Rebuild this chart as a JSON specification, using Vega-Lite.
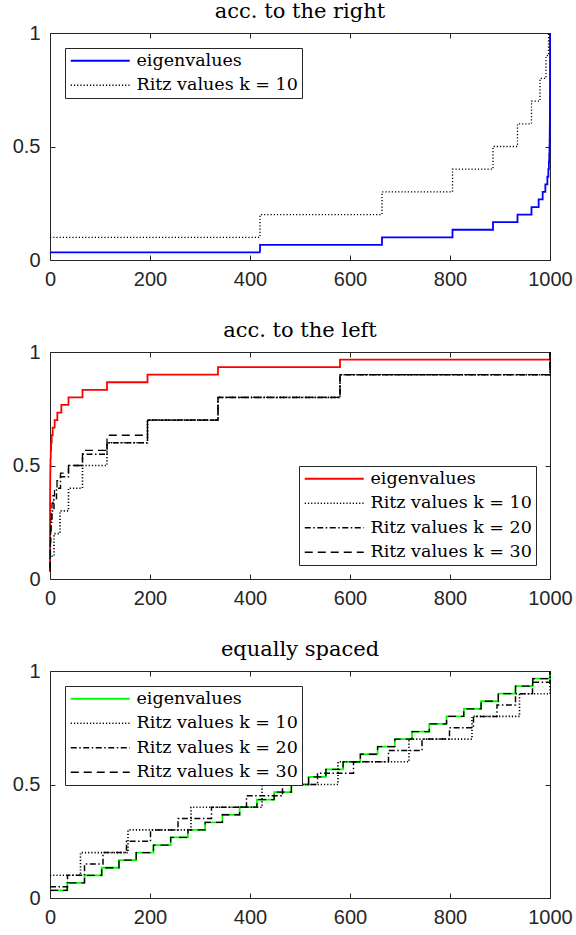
{
  "$schema": "https://vega.github.io/schema/vega-lite/v6.json",
  "padding": {"left": 11, "top": 0, "right": 0, "bottom": 0},
  "background": "white",
  "datasets": {
    "p1": [
      {"series": "eigenvalues", "x": 0, "y": 0.0333},
      {"series": "eigenvalues", "x": 420, "y": 0.0667},
      {"series": "eigenvalues", "x": 664, "y": 0.1},
      {"series": "eigenvalues", "x": 805, "y": 0.1333},
      {"series": "eigenvalues", "x": 886, "y": 0.1667},
      {"series": "eigenvalues", "x": 935, "y": 0.2},
      {"series": "eigenvalues", "x": 963, "y": 0.2333},
      {"series": "eigenvalues", "x": 977.3, "y": 0.2667},
      {"series": "eigenvalues", "x": 985.3, "y": 0.3},
      {"series": "eigenvalues", "x": 990.7, "y": 0.3333},
      {"series": "eigenvalues", "x": 994.7, "y": 0.3667},
      {"series": "eigenvalues", "x": 996.7, "y": 0.4},
      {"series": "eigenvalues", "x": 997.8, "y": 0.4333},
      {"series": "eigenvalues", "x": 998.5, "y": 0.4667},
      {"series": "eigenvalues", "x": 999, "y": 0.5},
      {"series": "eigenvalues", "x": 999.3, "y": 0.5333},
      {"series": "eigenvalues", "x": 999.5, "y": 0.5667},
      {"series": "eigenvalues", "x": 999.65, "y": 0.6},
      {"series": "eigenvalues", "x": 999.75, "y": 0.6333},
      {"series": "eigenvalues", "x": 999.83, "y": 0.6667},
      {"series": "eigenvalues", "x": 999.88, "y": 0.7},
      {"series": "eigenvalues", "x": 999.92, "y": 0.7333},
      {"series": "eigenvalues", "x": 999.95, "y": 0.7667},
      {"series": "eigenvalues", "x": 999.97, "y": 0.8},
      {"series": "eigenvalues", "x": 999.98, "y": 0.8333},
      {"series": "eigenvalues", "x": 999.99, "y": 0.8667},
      {"series": "eigenvalues", "x": 999.995, "y": 0.9},
      {"series": "eigenvalues", "x": 999.998, "y": 0.9333},
      {"series": "eigenvalues", "x": 999.999, "y": 0.9667},
      {"series": "eigenvalues", "x": 1000, "y": 1},
      {"series": "Ritz values k = 10", "x": 0, "y": 0.1},
      {"series": "Ritz values k = 10", "x": 420, "y": 0.2},
      {"series": "Ritz values k = 10", "x": 664, "y": 0.3},
      {"series": "Ritz values k = 10", "x": 805, "y": 0.4},
      {"series": "Ritz values k = 10", "x": 886, "y": 0.5},
      {"series": "Ritz values k = 10", "x": 935, "y": 0.6},
      {"series": "Ritz values k = 10", "x": 963, "y": 0.7},
      {"series": "Ritz values k = 10", "x": 980, "y": 0.8},
      {"series": "Ritz values k = 10", "x": 992, "y": 0.9},
      {"series": "Ritz values k = 10", "x": 997, "y": 1}
    ],
    "p2": [
      {"series": "eigenvalues", "x": 0, "y": 0.0333},
      {"series": "eigenvalues", "x": 0.001, "y": 0.0667},
      {"series": "eigenvalues", "x": 0.002, "y": 0.1},
      {"series": "eigenvalues", "x": 0.005, "y": 0.1333},
      {"series": "eigenvalues", "x": 0.01, "y": 0.1667},
      {"series": "eigenvalues", "x": 0.02, "y": 0.2},
      {"series": "eigenvalues", "x": 0.03, "y": 0.2333},
      {"series": "eigenvalues", "x": 0.05, "y": 0.2667},
      {"series": "eigenvalues", "x": 0.08, "y": 0.3},
      {"series": "eigenvalues", "x": 0.12, "y": 0.3333},
      {"series": "eigenvalues", "x": 0.17, "y": 0.3667},
      {"series": "eigenvalues", "x": 0.25, "y": 0.4},
      {"series": "eigenvalues", "x": 0.35, "y": 0.4333},
      {"series": "eigenvalues", "x": 0.5, "y": 0.4667},
      {"series": "eigenvalues", "x": 0.7, "y": 0.5},
      {"series": "eigenvalues", "x": 1, "y": 0.5333},
      {"series": "eigenvalues", "x": 1.5, "y": 0.5667},
      {"series": "eigenvalues", "x": 2.2, "y": 0.6},
      {"series": "eigenvalues", "x": 3.3, "y": 0.6333},
      {"series": "eigenvalues", "x": 5.3, "y": 0.6667},
      {"series": "eigenvalues", "x": 9.3, "y": 0.7},
      {"series": "eigenvalues", "x": 14.7, "y": 0.7333},
      {"series": "eigenvalues", "x": 22.7, "y": 0.7667},
      {"series": "eigenvalues", "x": 37, "y": 0.8},
      {"series": "eigenvalues", "x": 65, "y": 0.8333},
      {"series": "eigenvalues", "x": 114, "y": 0.8667},
      {"series": "eigenvalues", "x": 195, "y": 0.9},
      {"series": "eigenvalues", "x": 336, "y": 0.9333},
      {"series": "eigenvalues", "x": 580, "y": 0.9667},
      {"series": "eigenvalues", "x": 1000, "y": 1},
      {"series": "Ritz values k = 10", "x": 3, "y": 0.1},
      {"series": "Ritz values k = 10", "x": 8, "y": 0.2},
      {"series": "Ritz values k = 10", "x": 20, "y": 0.3},
      {"series": "Ritz values k = 10", "x": 37, "y": 0.4},
      {"series": "Ritz values k = 10", "x": 65, "y": 0.5},
      {"series": "Ritz values k = 10", "x": 114, "y": 0.6},
      {"series": "Ritz values k = 10", "x": 195, "y": 0.7},
      {"series": "Ritz values k = 10", "x": 336, "y": 0.8},
      {"series": "Ritz values k = 10", "x": 580, "y": 0.9},
      {"series": "Ritz values k = 10", "x": 1000, "y": 1},
      {"series": "Ritz values k = 20", "x": 0, "y": 0.05},
      {"series": "Ritz values k = 20", "x": 0.3, "y": 0.1},
      {"series": "Ritz values k = 20", "x": 0.7, "y": 0.15},
      {"series": "Ritz values k = 20", "x": 1.2, "y": 0.2},
      {"series": "Ritz values k = 20", "x": 2, "y": 0.25},
      {"series": "Ritz values k = 20", "x": 4, "y": 0.3},
      {"series": "Ritz values k = 20", "x": 8, "y": 0.35},
      {"series": "Ritz values k = 20", "x": 13, "y": 0.4},
      {"series": "Ritz values k = 20", "x": 21, "y": 0.45},
      {"series": "Ritz values k = 20", "x": 37, "y": 0.5},
      {"series": "Ritz values k = 20", "x": 65, "y": 0.55},
      {"series": "Ritz values k = 20", "x": 114, "y": 0.6},
      {"series": "Ritz values k = 20", "x": 195, "y": 0.7},
      {"series": "Ritz values k = 20", "x": 336, "y": 0.8},
      {"series": "Ritz values k = 20", "x": 580, "y": 0.9},
      {"series": "Ritz values k = 20", "x": 1000, "y": 1},
      {"series": "Ritz values k = 30", "x": 0, "y": 0.0333},
      {"series": "Ritz values k = 30", "x": 0.2, "y": 0.0667},
      {"series": "Ritz values k = 30", "x": 0.4, "y": 0.1},
      {"series": "Ritz values k = 30", "x": 0.6, "y": 0.1333},
      {"series": "Ritz values k = 30", "x": 0.9, "y": 0.1667},
      {"series": "Ritz values k = 30", "x": 1.2, "y": 0.2},
      {"series": "Ritz values k = 30", "x": 1.6, "y": 0.2333},
      {"series": "Ritz values k = 30", "x": 2.2, "y": 0.2667},
      {"series": "Ritz values k = 30", "x": 3, "y": 0.3},
      {"series": "Ritz values k = 30", "x": 4, "y": 0.3333},
      {"series": "Ritz values k = 30", "x": 6, "y": 0.3667},
      {"series": "Ritz values k = 30", "x": 9, "y": 0.4},
      {"series": "Ritz values k = 30", "x": 14, "y": 0.4333},
      {"series": "Ritz values k = 30", "x": 21, "y": 0.4667},
      {"series": "Ritz values k = 30", "x": 37, "y": 0.5},
      {"series": "Ritz values k = 30", "x": 65, "y": 0.5667},
      {"series": "Ritz values k = 30", "x": 114, "y": 0.6333},
      {"series": "Ritz values k = 30", "x": 195, "y": 0.7},
      {"series": "Ritz values k = 30", "x": 336, "y": 0.8},
      {"series": "Ritz values k = 30", "x": 580, "y": 0.9},
      {"series": "Ritz values k = 30", "x": 1000, "y": 1}
    ],
    "p3": [
      {"series": "eigenvalues", "x": 0, "y": 0.0333},
      {"series": "eigenvalues", "x": 34.5, "y": 0.0667},
      {"series": "eigenvalues", "x": 69, "y": 0.1},
      {"series": "eigenvalues", "x": 103.4, "y": 0.1333},
      {"series": "eigenvalues", "x": 137.9, "y": 0.1667},
      {"series": "eigenvalues", "x": 172.4, "y": 0.2},
      {"series": "eigenvalues", "x": 206.9, "y": 0.2333},
      {"series": "eigenvalues", "x": 241.4, "y": 0.2667},
      {"series": "eigenvalues", "x": 275.9, "y": 0.3},
      {"series": "eigenvalues", "x": 310.3, "y": 0.3333},
      {"series": "eigenvalues", "x": 344.8, "y": 0.3667},
      {"series": "eigenvalues", "x": 379.3, "y": 0.4},
      {"series": "eigenvalues", "x": 413.8, "y": 0.4333},
      {"series": "eigenvalues", "x": 448.3, "y": 0.4667},
      {"series": "eigenvalues", "x": 482.8, "y": 0.5},
      {"series": "eigenvalues", "x": 517.2, "y": 0.5333},
      {"series": "eigenvalues", "x": 551.7, "y": 0.5667},
      {"series": "eigenvalues", "x": 586.2, "y": 0.6},
      {"series": "eigenvalues", "x": 620.7, "y": 0.6333},
      {"series": "eigenvalues", "x": 655.2, "y": 0.6667},
      {"series": "eigenvalues", "x": 689.7, "y": 0.7},
      {"series": "eigenvalues", "x": 724.1, "y": 0.7333},
      {"series": "eigenvalues", "x": 758.6, "y": 0.7667},
      {"series": "eigenvalues", "x": 793.1, "y": 0.8},
      {"series": "eigenvalues", "x": 827.6, "y": 0.8333},
      {"series": "eigenvalues", "x": 862.1, "y": 0.8667},
      {"series": "eigenvalues", "x": 896.6, "y": 0.9},
      {"series": "eigenvalues", "x": 931, "y": 0.9333},
      {"series": "eigenvalues", "x": 965.5, "y": 0.9667},
      {"series": "eigenvalues", "x": 1000, "y": 1},
      {"series": "Ritz values k = 10", "x": 0, "y": 0.1},
      {"series": "Ritz values k = 10", "x": 61, "y": 0.2},
      {"series": "Ritz values k = 10", "x": 156, "y": 0.3},
      {"series": "Ritz values k = 10", "x": 282, "y": 0.4},
      {"series": "Ritz values k = 10", "x": 424, "y": 0.5},
      {"series": "Ritz values k = 10", "x": 576, "y": 0.6},
      {"series": "Ritz values k = 10", "x": 718, "y": 0.7},
      {"series": "Ritz values k = 10", "x": 844, "y": 0.8},
      {"series": "Ritz values k = 10", "x": 939, "y": 0.9},
      {"series": "Ritz values k = 10", "x": 1000, "y": 1},
      {"series": "Ritz values k = 20", "x": 0, "y": 0.05},
      {"series": "Ritz values k = 20", "x": 35, "y": 0.1},
      {"series": "Ritz values k = 20", "x": 69, "y": 0.15},
      {"series": "Ritz values k = 20", "x": 106, "y": 0.2},
      {"series": "Ritz values k = 20", "x": 153, "y": 0.25},
      {"series": "Ritz values k = 20", "x": 201, "y": 0.3},
      {"series": "Ritz values k = 20", "x": 256, "y": 0.35},
      {"series": "Ritz values k = 20", "x": 323, "y": 0.4},
      {"series": "Ritz values k = 20", "x": 393, "y": 0.45},
      {"series": "Ritz values k = 20", "x": 465, "y": 0.5},
      {"series": "Ritz values k = 20", "x": 535, "y": 0.55},
      {"series": "Ritz values k = 20", "x": 607, "y": 0.6},
      {"series": "Ritz values k = 20", "x": 677, "y": 0.65},
      {"series": "Ritz values k = 20", "x": 744, "y": 0.7},
      {"series": "Ritz values k = 20", "x": 799, "y": 0.75},
      {"series": "Ritz values k = 20", "x": 847, "y": 0.8},
      {"series": "Ritz values k = 20", "x": 894, "y": 0.85},
      {"series": "Ritz values k = 20", "x": 931, "y": 0.9},
      {"series": "Ritz values k = 20", "x": 965, "y": 0.95},
      {"series": "Ritz values k = 20", "x": 1000, "y": 1},
      {"series": "Ritz values k = 30", "x": 0, "y": 0.0333},
      {"series": "Ritz values k = 30", "x": 34.5, "y": 0.0667},
      {"series": "Ritz values k = 30", "x": 69, "y": 0.1},
      {"series": "Ritz values k = 30", "x": 103.4, "y": 0.1333},
      {"series": "Ritz values k = 30", "x": 137.9, "y": 0.1667},
      {"series": "Ritz values k = 30", "x": 172.4, "y": 0.2},
      {"series": "Ritz values k = 30", "x": 206.9, "y": 0.2333},
      {"series": "Ritz values k = 30", "x": 241.4, "y": 0.2667},
      {"series": "Ritz values k = 30", "x": 275.9, "y": 0.3},
      {"series": "Ritz values k = 30", "x": 310.3, "y": 0.3333},
      {"series": "Ritz values k = 30", "x": 344.8, "y": 0.3667},
      {"series": "Ritz values k = 30", "x": 379.3, "y": 0.4},
      {"series": "Ritz values k = 30", "x": 413.8, "y": 0.4333},
      {"series": "Ritz values k = 30", "x": 448.3, "y": 0.4667},
      {"series": "Ritz values k = 30", "x": 482.8, "y": 0.5},
      {"series": "Ritz values k = 30", "x": 517.2, "y": 0.5333},
      {"series": "Ritz values k = 30", "x": 551.7, "y": 0.5667},
      {"series": "Ritz values k = 30", "x": 586.2, "y": 0.6},
      {"series": "Ritz values k = 30", "x": 620.7, "y": 0.6333},
      {"series": "Ritz values k = 30", "x": 655.2, "y": 0.6667},
      {"series": "Ritz values k = 30", "x": 689.7, "y": 0.7},
      {"series": "Ritz values k = 30", "x": 724.1, "y": 0.7333},
      {"series": "Ritz values k = 30", "x": 758.6, "y": 0.7667},
      {"series": "Ritz values k = 30", "x": 793.1, "y": 0.8},
      {"series": "Ritz values k = 30", "x": 827.6, "y": 0.8333},
      {"series": "Ritz values k = 30", "x": 862.1, "y": 0.8667},
      {"series": "Ritz values k = 30", "x": 896.6, "y": 0.9},
      {"series": "Ritz values k = 30", "x": 931, "y": 0.9333},
      {"series": "Ritz values k = 30", "x": 965.5, "y": 0.9667},
      {"series": "Ritz values k = 30", "x": 1000, "y": 1}
    ]
  },
  "vconcat": [
    {
      "data": {"name": "p1"},
      "width": 500,
      "height": 227,
      "title": "acc. to the right",
      "layer": [
        {
          "transform": [{"filter": "datum.series === 'eigenvalues'"}],
          "mark": {"type": "line", "interpolate": "step-after"},
          "encoding": {
            "x": {"field": "x", "type": "quantitative", "scale": {"domain": [0, 1000], "nice": false}, "axis": {"values": [0, 200, 400, 600, 800, 1000], "format": "d", "title": null, "labelFlush": false, "labelOverlap": false, "labelPadding": 14}},
            "y": {"field": "y", "type": "quantitative", "scale": {"domain": [0, 1], "nice": false}, "axis": {"values": [0, 0.5, 1], "format": "~g", "title": null, "labelFlush": false, "labelOverlap": false, "labelPadding": 15}},
            "color": {"field": "series", "type": "nominal", "scale": {"domain": ["eigenvalues", "Ritz values k = 10"], "range": ["#0000ff", "#000000"]}, "legend": {"title": null, "orient": "top-left", "offset": 15}},
            "strokeDash": {"field": "series", "type": "nominal", "scale": {"domain": ["eigenvalues", "Ritz values k = 10"], "range": [[1, 0], [1.2, 2]]}, "legend": {"title": null, "orient": "top-left", "offset": 15}},
            "strokeWidth": {"field": "series", "type": "nominal", "scale": {"domain": ["eigenvalues", "Ritz values k = 10"], "range": [1.8, 1.3]}, "legend": {"title": null, "orient": "top-left", "offset": 15}}
          }
        },
        {
          "transform": [{"filter": "datum.series !== 'eigenvalues'"}],
          "mark": {"type": "line", "interpolate": "step-after"},
          "encoding": {
            "x": {"field": "x", "type": "quantitative", "axis": null},
            "y": {"field": "y", "type": "quantitative", "axis": null},
            "color": {"field": "series", "type": "nominal", "legend": {"title": null, "orient": "top-left", "offset": 15}},
            "strokeDash": {"field": "series", "type": "nominal", "legend": {"title": null, "orient": "top-left", "offset": 15}},
            "strokeWidth": {"field": "series", "type": "nominal", "legend": {"title": null, "orient": "top-left", "offset": 15}}
          }
        },
        {
          "mark": {"type": "point", "opacity": 0},
          "encoding": {
            "x": {"field": "x", "type": "quantitative", "axis": {"orient": "top", "values": [0, 200, 400, 600, 800, 1000], "labels": false, "title": null}},
            "y": {"field": "y", "type": "quantitative", "axis": {"orient": "right", "values": [0, 0.5, 1], "labels": false, "title": null}}
          }
        }
      ],
      "resolve": {"axis": {"x": "independent", "y": "independent"}}
    },
    {
      "data": {"name": "p2"},
      "width": 500,
      "height": 227,
      "title": "acc. to the left",
      "layer": [
        {
          "transform": [{"filter": "datum.series === 'eigenvalues'"}],
          "mark": {"type": "line", "interpolate": "step-after"},
          "encoding": {
            "x": {"field": "x", "type": "quantitative", "scale": {"domain": [0, 1000], "nice": false}, "axis": {"values": [0, 200, 400, 600, 800, 1000], "format": "d", "title": null, "labelFlush": false, "labelOverlap": false, "labelPadding": 14}},
            "y": {"field": "y", "type": "quantitative", "scale": {"domain": [0, 1], "nice": false}, "axis": {"values": [0, 0.5, 1], "format": "~g", "title": null, "labelFlush": false, "labelOverlap": false, "labelPadding": 15}},
            "color": {"field": "series", "type": "nominal", "scale": {"domain": ["eigenvalues", "Ritz values k = 10", "Ritz values k = 20", "Ritz values k = 30"], "range": ["#ff0000", "#000000", "#000000", "#000000"]}, "legend": {"title": null, "orient": "bottom-right", "offset": 14}},
            "strokeDash": {"field": "series", "type": "nominal", "scale": {"domain": ["eigenvalues", "Ritz values k = 10", "Ritz values k = 20", "Ritz values k = 30"], "range": [[1, 0], [1.2, 2], [6, 2.5, 1.5, 2.5], [8, 5]]}, "legend": {"title": null, "orient": "bottom-right", "offset": 14}},
            "strokeWidth": {"field": "series", "type": "nominal", "scale": {"domain": ["eigenvalues", "Ritz values k = 10", "Ritz values k = 20", "Ritz values k = 30"], "range": [1.8, 1.3, 1.4, 1.4]}, "legend": {"title": null, "orient": "bottom-right", "offset": 14}}
          }
        },
        {
          "transform": [{"filter": "datum.series !== 'eigenvalues'"}],
          "mark": {"type": "line", "interpolate": "step-after"},
          "encoding": {
            "x": {"field": "x", "type": "quantitative", "axis": null},
            "y": {"field": "y", "type": "quantitative", "axis": null},
            "color": {"field": "series", "type": "nominal", "legend": {"title": null, "orient": "bottom-right", "offset": 14}},
            "strokeDash": {"field": "series", "type": "nominal", "legend": {"title": null, "orient": "bottom-right", "offset": 14}},
            "strokeWidth": {"field": "series", "type": "nominal", "legend": {"title": null, "orient": "bottom-right", "offset": 14}}
          }
        },
        {
          "mark": {"type": "point", "opacity": 0},
          "encoding": {
            "x": {"field": "x", "type": "quantitative", "axis": {"orient": "top", "values": [0, 200, 400, 600, 800, 1000], "labels": false, "title": null}},
            "y": {"field": "y", "type": "quantitative", "axis": {"orient": "right", "values": [0, 0.5, 1], "labels": false, "title": null}}
          }
        }
      ],
      "resolve": {"axis": {"x": "independent", "y": "independent"}}
    },
    {
      "data": {"name": "p3"},
      "width": 500,
      "height": 227,
      "title": "equally spaced",
      "layer": [
        {
          "transform": [{"filter": "datum.series === 'eigenvalues'"}],
          "mark": {"type": "line", "interpolate": "step-after"},
          "encoding": {
            "x": {"field": "x", "type": "quantitative", "scale": {"domain": [0, 1000], "nice": false}, "axis": {"values": [0, 200, 400, 600, 800, 1000], "format": "d", "title": null, "labelFlush": false, "labelOverlap": false, "labelPadding": 14}},
            "y": {"field": "y", "type": "quantitative", "scale": {"domain": [0, 1], "nice": false}, "axis": {"values": [0, 0.5, 1], "format": "~g", "title": null, "labelFlush": false, "labelOverlap": false, "labelPadding": 15}},
            "color": {"field": "series", "type": "nominal", "scale": {"domain": ["eigenvalues", "Ritz values k = 10", "Ritz values k = 20", "Ritz values k = 30"], "range": ["#00ff00", "#000000", "#000000", "#000000"]}, "legend": {"title": null, "orient": "top-left", "offset": 15}},
            "strokeDash": {"field": "series", "type": "nominal", "scale": {"domain": ["eigenvalues", "Ritz values k = 10", "Ritz values k = 20", "Ritz values k = 30"], "range": [[1, 0], [1.2, 2], [6, 2.5, 1.5, 2.5], [8, 5]]}, "legend": {"title": null, "orient": "top-left", "offset": 15}},
            "strokeWidth": {"field": "series", "type": "nominal", "scale": {"domain": ["eigenvalues", "Ritz values k = 10", "Ritz values k = 20", "Ritz values k = 30"], "range": [1.8, 1.3, 1.4, 1.4]}, "legend": {"title": null, "orient": "top-left", "offset": 15}}
          }
        },
        {
          "transform": [{"filter": "datum.series !== 'eigenvalues'"}],
          "mark": {"type": "line", "interpolate": "step-after"},
          "encoding": {
            "x": {"field": "x", "type": "quantitative", "axis": null},
            "y": {"field": "y", "type": "quantitative", "axis": null},
            "color": {"field": "series", "type": "nominal", "legend": {"title": null, "orient": "top-left", "offset": 15}},
            "strokeDash": {"field": "series", "type": "nominal", "legend": {"title": null, "orient": "top-left", "offset": 15}},
            "strokeWidth": {"field": "series", "type": "nominal", "legend": {"title": null, "orient": "top-left", "offset": 15}}
          }
        },
        {
          "mark": {"type": "point", "opacity": 0},
          "encoding": {
            "x": {"field": "x", "type": "quantitative", "axis": {"orient": "top", "values": [0, 200, 400, 600, 800, 1000], "labels": false, "title": null}},
            "y": {"field": "y", "type": "quantitative", "axis": {"orient": "right", "values": [0, 0.5, 1], "labels": false, "title": null}}
          }
        }
      ],
      "resolve": {"axis": {"x": "independent", "y": "independent"}}
    }
  ],
  "spacing": 29,
  "resolve": {"scale": {"color": "independent", "strokeDash": "independent", "strokeWidth": "independent"}},
  "config": {
    "view": {"stroke": "#262626", "strokeWidth": 1},
    "axis": {"labelFont": "Liberation Sans", "labelFontSize": 20, "labelColor": "#262626", "tickColor": "#262626", "tickSize": -5, "tickWidth": 1, "domain": false, "grid": false, "labelPadding": 14},
    "title": {"font": "DejaVu Serif", "fontSize": 21, "fontWeight": "normal", "color": "#000000", "offset": 1},
    "legend": {"strokeColor": "#262626", "fillColor": "white", "padding": 4, "cornerRadius": 0, "labelFont": "DejaVu Serif", "labelFontSize": 17.5, "labelColor": "#000000", "symbolType": "M-1,0H7.43", "symbolSize": 196, "labelOffset": 50, "rowPadding": 5.5, "labelLimit": 0}
  }
}
